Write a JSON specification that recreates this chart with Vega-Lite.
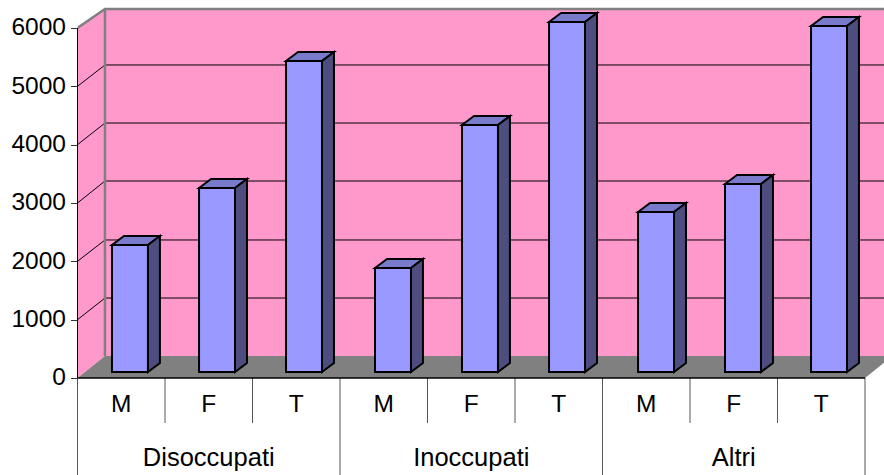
{"$schema":"https://vega.github.io/schema/vega-lite/v6.json","width":806.5,"height":475,"autosize":"none","padding":{"left":77.5,"top":0,"right":0,"bottom":0},"background":"white",
"config":{"view":{"stroke":null},"font":"Liberation Sans"},
"datasets":{
"bars":[{"group":"Disoccupati","cat":"M","mid":0.5,"left":0.394,"right":0.805,"value":2177,"base":0},{"group":"Disoccupati","cat":"F","mid":1.5,"left":1.389,"right":1.8,"value":3154,"base":0},{"group":"Disoccupati","cat":"T","mid":2.5,"left":2.383,"right":2.794,"value":5331,"base":0},{"group":"Inoccupati","cat":"M","mid":3.5,"left":3.4,"right":3.811,"value":1783,"base":0},{"group":"Inoccupati","cat":"F","mid":4.5,"left":4.394,"right":4.805,"value":4234,"base":0},{"group":"Inoccupati","cat":"T","mid":5.5,"left":5.389,"right":5.8,"value":6000,"base":0},{"group":"Altri","cat":"M","mid":6.5,"left":6.406,"right":6.817,"value":2743,"base":0},{"group":"Altri","cat":"F","mid":7.5,"left":7.4,"right":7.811,"value":3223,"base":0},{"group":"Altri","cat":"T","mid":8.5,"left":8.383,"right":8.794,"value":5931,"base":0}],
"side":[{"b":1,"x":0.805,"lo":0,"hi":2177},{"b":1,"x":0.942,"lo":154,"hi":2331},{"b":2,"x":1.8,"lo":0,"hi":3154},{"b":2,"x":1.937,"lo":154,"hi":3308},{"b":3,"x":2.794,"lo":0,"hi":5331},{"b":3,"x":2.931,"lo":154,"hi":5485},{"b":4,"x":3.811,"lo":0,"hi":1783},{"b":4,"x":3.948,"lo":154,"hi":1937},{"b":5,"x":4.805,"lo":0,"hi":4234},{"b":5,"x":4.942,"lo":154,"hi":4388},{"b":6,"x":5.8,"lo":0,"hi":6000},{"b":6,"x":5.937,"lo":154,"hi":6154},{"b":7,"x":6.817,"lo":0,"hi":2743},{"b":7,"x":6.954,"lo":154,"hi":2897},{"b":8,"x":7.811,"lo":0,"hi":3223},{"b":8,"x":7.948,"lo":154,"hi":3377},{"b":9,"x":8.794,"lo":0,"hi":5931},{"b":9,"x":8.931,"lo":154,"hi":6085}],
"topface":[{"b":1,"y":2177,"a":0.394,"c":0.805},{"b":1,"y":2331,"a":0.531,"c":0.942},{"b":2,"y":3154,"a":1.389,"c":1.8},{"b":2,"y":3308,"a":1.526,"c":1.937},{"b":3,"y":5331,"a":2.383,"c":2.794},{"b":3,"y":5485,"a":2.52,"c":2.931},{"b":4,"y":1783,"a":3.4,"c":3.811},{"b":4,"y":1937,"a":3.537,"c":3.948},{"b":5,"y":4234,"a":4.394,"c":4.805},{"b":5,"y":4388,"a":4.531,"c":4.942},{"b":6,"y":6000,"a":5.389,"c":5.8},{"b":6,"y":6154,"a":5.526,"c":5.937},{"b":7,"y":2743,"a":6.406,"c":6.817},{"b":7,"y":2897,"a":6.543,"c":6.954},{"b":8,"y":3223,"a":7.4,"c":7.811},{"b":8,"y":3377,"a":7.537,"c":7.948},{"b":9,"y":5931,"a":8.383,"c":8.794},{"b":9,"y":6085,"a":8.52,"c":8.931}],
"grid":[{"k":1000,"x":0,"y":1000},{"k":1000,"x":0.314,"y":1371},{"k":1000,"x":9.5,"y":1371},{"k":2000,"x":0,"y":2000},{"k":2000,"x":0.314,"y":2366},{"k":2000,"x":9.5,"y":2366},{"k":3000,"x":0,"y":3000},{"k":3000,"x":0.314,"y":3377},{"k":3000,"x":9.5,"y":3377},{"k":4000,"x":0,"y":4000},{"k":4000,"x":0.314,"y":4371},{"k":4000,"x":9.5,"y":4371},{"k":5000,"x":0,"y":5000},{"k":5000,"x":0.314,"y":5366},{"k":5000,"x":9.5,"y":5366}],
"edge":[{"k":"a","x":0,"y":6000},{"k":"a","x":0.314,"y":6326},{"k":"a","x":9.5,"y":6326},{"k":"b","x":0.314,"y":377},{"k":"b","x":0.3141,"y":6326}],
"floor":[{"y":0,"a":0,"c":9},{"y":377,"a":0.314,"c":9.314}],
"leftwall":[{"x":0,"lo":0,"hi":6000},{"x":0.314,"lo":377,"hi":6326}],
"seps":[{"x":1,"low":-771,"top":0},{"x":2,"low":-771,"top":0},{"x":3,"low":-1663,"top":0},{"x":4,"low":-771,"top":0},{"x":5,"low":-771,"top":0},{"x":6,"low":-1663,"top":0},{"x":7,"low":-771,"top":0},{"x":8,"low":-771,"top":0},{"x":9,"low":-1663,"top":0},{"x":0,"low":-1663,"top":0}],
"groups":[{"group":"Disoccupati","mid":1.5},{"group":"Inoccupati","mid":4.5},{"group":"Altri","mid":7.5}]
},
"layer":[
{"data":{"values":[{"a":0.314,"b":9.5,"lo":377,"hi":6326}]},"mark":{"type":"rect","fill":"#FF99CC","clip":true},
"encoding":{"x":{"field":"a","type":"quantitative","title":null,"axis":null,"scale":{"domain":[0,9.217],"nice":false,"zero":false}},"x2":{"field":"b"},
"y":{"field":"lo","type":"quantitative","title":null,"scale":{"domain":[-1663,6480],"nice":false,"zero":false},"axis":{"values":[0,1000,2000,3000,4000,5000,6000],"format":"d","domain":false,"grid":false,"tickColor":"#333333","tickSize":7,"tickWidth":1,"labelFontSize":24.5,"labelColor":"#000000","labelPadding":5,"labelFont":"Liberation Sans","title":null}},"y2":{"field":"hi"}}},
{"data":{"name":"leftwall"},"mark":{"type":"area","fill":"#FF99CC","orient":"vertical"},"encoding":{"x":{"field":"x","type":"quantitative","title":null,"axis":null},"y":{"field":"hi","type":"quantitative","title":null},"y2":{"field":"lo"}}},
{"data":{"name":"grid"},"mark":{"type":"line","stroke":"#000000","strokeWidth":1,"clip":true},"encoding":{"x":{"field":"x","type":"quantitative","title":null,"axis":null},"y":{"field":"y","type":"quantitative","title":null},"detail":{"field":"k","type":"nominal"}}},
{"data":{"name":"floor"},"mark":{"type":"area","fill":"#808080","orient":"horizontal","clip":true},"encoding":{"y":{"field":"y","type":"quantitative","title":null},"x":{"field":"a","type":"quantitative","title":null,"axis":null},"x2":{"field":"c"}}},
{"data":{"name":"edge"},"mark":{"type":"line","stroke":"#808080","strokeWidth":2.5,"clip":true},"encoding":{"x":{"field":"x","type":"quantitative","title":null,"axis":null},"y":{"field":"y","type":"quantitative","title":null},"detail":{"field":"k","type":"nominal"}}},
{"data":{"name":"seps"},"mark":{"type":"rule","stroke":"#555555","strokeWidth":1},"encoding":{"x":{"field":"x","type":"quantitative","title":null,"axis":null},"y":{"field":"top","type":"quantitative","title":null},"y2":{"field":"low"}}},
{"data":{"values":[{"x":0,"a":0,"b":6000}]},"mark":{"type":"rule","stroke":"#000000","strokeWidth":1},"encoding":{"x":{"field":"x","type":"quantitative","title":null,"axis":null},"y":{"field":"a","type":"quantitative","title":null},"y2":{"field":"b"}}},
{"data":{"values":[{"a":0,"b":9,"y":0}]},"mark":{"type":"rule","stroke":"#000000","strokeWidth":1.5},"encoding":{"x":{"field":"a","type":"quantitative","title":null,"axis":null},"x2":{"field":"b"},"y":{"field":"y","type":"quantitative","title":null}}},
{"data":{"name":"topface"},"mark":{"type":"area","orient":"horizontal","fill":"#7A7ACC","stroke":"#000000","strokeWidth":2,"yOffset":-6},"encoding":{"y":{"field":"y","type":"quantitative","title":null},"x":{"field":"a","type":"quantitative","title":null,"axis":null},"x2":{"field":"c"},"detail":{"field":"b","type":"nominal"}}},
{"data":{"name":"side"},"mark":{"type":"area","orient":"vertical","fill":"#4D4D80","stroke":"#000000","strokeWidth":2,"yOffset":-6,"y2Offset":-6},"encoding":{"x":{"field":"x","type":"quantitative","title":null,"axis":null},"y":{"field":"hi","type":"quantitative","title":null},"y2":{"field":"lo"},"detail":{"field":"b","type":"nominal"}}},
{"data":{"name":"bars"},"mark":{"type":"rect","fill":"#9999FF","stroke":"#000000","strokeWidth":2,"yOffset":-6,"y2Offset":-6},"encoding":{"x":{"field":"left","type":"quantitative","title":null,"axis":null},"x2":{"field":"right"},"y":{"field":"value","type":"quantitative","title":null},"y2":{"field":"base"}}},
{"data":{"name":"bars"},"mark":{"type":"text","fontSize":24.5,"font":"Liberation Sans","color":"#000000","baseline":"middle","align":"center"},"encoding":{"x":{"field":"mid","type":"quantitative","title":null,"axis":null},"y":{"datum":-463,"type":"quantitative","title":null},"text":{"field":"cat","type":"nominal"}}},
{"data":{"name":"groups"},"mark":{"type":"text","fontSize":25.5,"font":"Liberation Sans","color":"#000000","baseline":"middle","align":"center"},"encoding":{"x":{"field":"mid","type":"quantitative","title":null,"axis":null},"y":{"datum":-1370,"type":"quantitative","title":null},"text":{"field":"group","type":"nominal"}}}
]}
